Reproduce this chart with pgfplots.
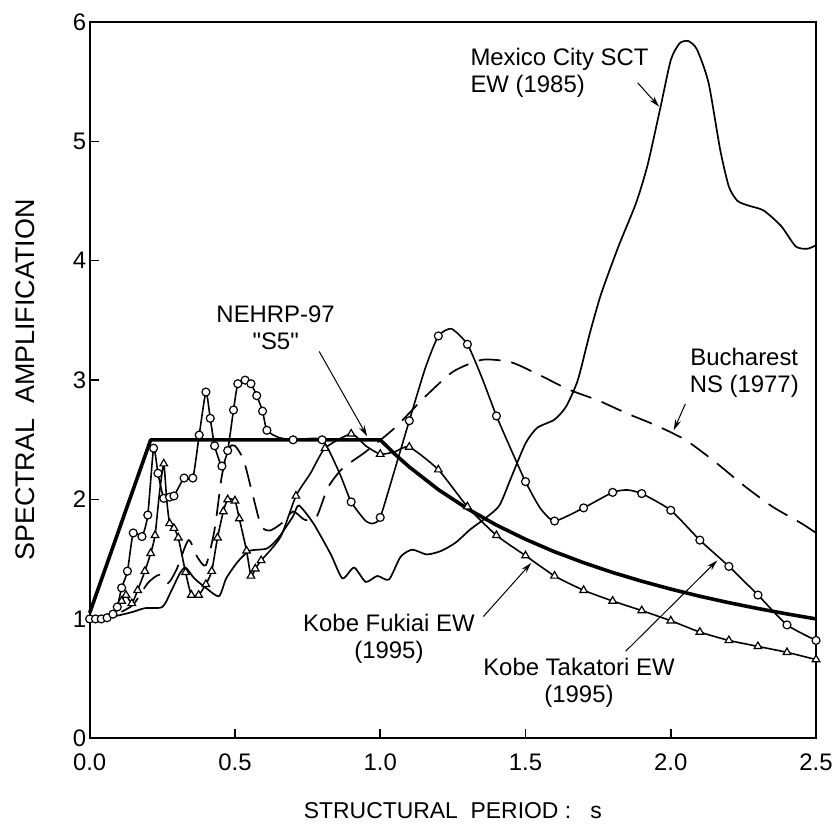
\documentclass[border=0pt]{standalone}
\usepackage{fontspec}
\setmainfont{Liberation Sans}
\newfontfamily\qfont{Liberation Sans}
\usepackage{pgfplots}
\pgfplotsset{compat=1.18}
\usetikzlibrary{arrows.meta}
\begin{document}
\begin{tikzpicture}
\begin{axis}[
  scale only axis, width=729pt, height=719pt,
  xmin=0, xmax=2.5, ymin=0, ymax=6,
  xtick={0,0.5,1,1.5,2,2.5}, ytick={0,1,2,3,4,5,6},
  xtick pos=bottom, ytick pos=left,
  tick align=inside, major tick length=9pt,
  axis line style={line width=2pt},
  every tick/.style={line width=1.5pt, black},
  clip=false,
  /pgf/number format/assume math mode=true,
  x tick label style={yshift=-12pt, font=\fontsize{24}{28}\selectfont},
  y tick label style={font=\fontsize{24}{28}\selectfont},
  xticklabel style={/pgf/number format/fixed, /pgf/number format/fixed zerofill, /pgf/number format/precision=1},
  xlabel={STRUCTURAL\ \ PERIOD\ :\ \ \ s},
  ylabel={SPECTRAL\ \ AMPLIFICATION},
  every axis x label/.style={at={(axis description cs:0.5,-0.1015)}, anchor=center, font=\fontsize{23}{27}\selectfont},
  every axis y label/.style={at={(axis description cs:-0.089,0.5)}, rotate=90, anchor=center, font=\fontsize{27}{31}\selectfont},
]
% Mexico City SCT EW (1985)
\addplot[black, line width=1.7pt, smooth, tension=0.4] coordinates {
(0,1.0) (0.05,1.01) (0.1,1.03) (0.15,1.06) (0.19,1.09) (0.25,1.10) (0.28,1.23) (0.31,1.38) (0.33,1.43) (0.36,1.34) (0.40,1.26) (0.445,1.19) (0.47,1.34) (0.51,1.48) (0.55,1.57) (0.61,1.59) (0.65,1.68) (0.70,1.86) (0.72,1.95) (0.77,1.80) (0.83,1.54) (0.87,1.34) (0.91,1.43) (0.95,1.31) (0.99,1.36) (1.03,1.33) (1.07,1.52) (1.11,1.58) (1.16,1.54) (1.21,1.57) (1.26,1.64) (1.31,1.75) (1.36,1.84) (1.41,1.95) (1.45,2.18) (1.50,2.47) (1.54,2.60) (1.60,2.67) (1.64,2.78) (1.68,3.0) (1.72,3.38) (1.76,3.72) (1.82,4.12) (1.88,4.48) (1.92,4.8) (1.965,5.29) (2.00,5.68) (2.03,5.82) (2.06,5.84) (2.09,5.77) (2.13,5.49) (2.17,4.93) (2.20,4.62) (2.23,4.50) (2.27,4.46) (2.32,4.42) (2.38,4.29) (2.43,4.12) (2.47,4.10) (2.5,4.13)
};
% Bucharest NS (1977)
\addplot[black, line width=1.7pt, dash pattern=on 22pt off 11pt, smooth, tension=0.4] coordinates {
(0,1.0) (0.05,1.01) (0.1,1.05) (0.15,1.12) (0.2,1.3) (0.24,1.37) (0.27,1.3) (0.3,1.42) (0.34,1.66) (0.37,1.52) (0.40,1.45) (0.43,1.75) (0.455,2.2) (0.48,2.43) (0.50,2.45) (0.53,2.33) (0.56,2.05) (0.59,1.78) (0.62,1.74) (0.66,1.80) (0.70,1.90) (0.74,1.83) (0.78,1.85) (0.82,2.1) (0.87,2.26) (0.95,2.40) (1.05,2.60) (1.15,2.85) (1.25,3.07) (1.35,3.17) (1.45,3.15) (1.55,3.04) (1.65,2.92) (1.75,2.83) (1.85,2.72) (1.95,2.62) (2.05,2.50) (2.15,2.32) (2.25,2.12) (2.35,1.94) (2.45,1.80) (2.5,1.72)
};
% Kobe Takatori EW line
\addplot[black, line width=1.6pt, smooth, tension=0.35] coordinates {
(0,1.0) (0.02,1.0) (0.04,1.0) (0.06,1.01) (0.08,1.04) (0.095,1.1) (0.11,1.26) (0.13,1.40) (0.15,1.72) (0.18,1.69) (0.20,1.87) (0.22,2.43) (0.235,2.22) (0.255,2.01) (0.275,2.02) (0.29,2.03) (0.325,2.18) (0.355,2.18) (0.377,2.54) (0.40,2.90) (0.415,2.68) (0.43,2.45) (0.455,2.28) (0.475,2.41) (0.495,2.75) (0.51,2.97) (0.535,3.0) (0.555,2.97) (0.575,2.87) (0.595,2.74) (0.61,2.58) (0.65,2.52) (0.7,2.5) (0.8,2.5) (0.86,2.22) (0.9,1.98) (0.95,1.82) (0.975,1.80) (1.0,1.85) (1.05,2.25) (1.1,2.66) (1.155,3.10) (1.2,3.37) (1.245,3.43) (1.3,3.30) (1.35,3.02) (1.4,2.70) (1.45,2.42) (1.5,2.15) (1.55,1.93) (1.6,1.82) (1.7,1.93) (1.8,2.06) (1.85,2.08) (1.9,2.05) (2.0,1.91) (2.1,1.66) (2.2,1.44) (2.3,1.20) (2.4,0.95) (2.5,0.82)
};
% Kobe Fukiai EW line
\addplot[black, line width=1.6pt, smooth, tension=0.35] coordinates {
(0,1.0) (0.03,1.01) (0.06,1.03) (0.09,1.07) (0.11,1.15) (0.125,1.2) (0.145,1.13) (0.165,1.24) (0.19,1.40) (0.21,1.55) (0.225,1.70) (0.24,2.05) (0.255,2.30) (0.265,2.0) (0.275,1.80) (0.29,1.76) (0.305,1.68) (0.33,1.39) (0.35,1.20) (0.375,1.20) (0.40,1.29) (0.42,1.40) (0.44,1.68) (0.46,1.90) (0.475,2.0) (0.50,1.99) (0.515,1.84) (0.54,1.57) (0.555,1.36) (0.57,1.42) (0.59,1.49) (0.62,1.57) (0.66,1.70) (0.71,2.03) (0.76,2.22) (0.81,2.43) (0.9,2.55) (0.95,2.45) (1.0,2.38) (1.05,2.40) (1.1,2.44) (1.2,2.25) (1.3,1.94) (1.4,1.70) (1.5,1.53) (1.6,1.36) (1.7,1.24) (1.8,1.15) (1.9,1.07) (2.0,0.985) (2.1,0.89) (2.2,0.82) (2.3,0.77) (2.4,0.72) (2.5,0.66)
};
% NEHRP-97 S5
\addplot[black, line width=3.6pt, line join=round] coordinates {
(0,1.05) (0.21,2.5) (1.0,2.5) (1.05,2.381) (1.1,2.273) (1.2,2.083) (1.3,1.923) (1.4,1.786) (1.5,1.667) (1.6,1.5625) (1.7,1.471) (1.8,1.389) (1.9,1.316) (2.0,1.25) (2.1,1.190) (2.2,1.136) (2.3,1.087) (2.4,1.042) (2.5,1.0)
};
% Takatori marks
\addplot[only marks, mark=*, mark size=4pt, mark options={draw=black, fill=white, line width=1.2pt}] coordinates {
(0,1.0) (0.02,1.0) (0.04,1.0) (0.06,1.01) (0.08,1.04) (0.095,1.1) (0.11,1.26) (0.13,1.40) (0.15,1.72) (0.18,1.69) (0.20,1.87) (0.22,2.43) (0.235,2.22) (0.255,2.01) (0.275,2.02) (0.29,2.03) (0.325,2.18) (0.355,2.18) (0.377,2.54) (0.40,2.90) (0.415,2.68) (0.43,2.45) (0.455,2.28) (0.475,2.41) (0.495,2.75) (0.51,2.97) (0.535,3.0) (0.555,2.97) (0.575,2.87) (0.595,2.74) (0.61,2.58) (0.7,2.5) (0.8,2.5) (0.9,1.98) (1.0,1.85) (1.1,2.66) (1.2,3.37) (1.3,3.30) (1.4,2.70) (1.5,2.15) (1.6,1.82) (1.7,1.93) (1.8,2.06) (1.9,2.05) (2.0,1.91) (2.1,1.66) (2.2,1.44) (2.3,1.20) (2.4,0.95) (2.5,0.82)
};
% Fukiai marks
\addplot[only marks, mark=triangle*, mark size=4.4pt, mark options={draw=black, fill=white, line width=1.2pt}] coordinates {
(0.11,1.15) (0.125,1.2) (0.145,1.13) (0.165,1.24) (0.19,1.40) (0.21,1.55) (0.225,1.70) (0.255,2.30) (0.275,1.80) (0.29,1.76) (0.305,1.68) (0.33,1.39) (0.35,1.20) (0.375,1.20) (0.40,1.29) (0.42,1.40) (0.44,1.68) (0.46,1.90) (0.475,2.0) (0.50,1.99) (0.515,1.84) (0.54,1.57) (0.555,1.36) (0.57,1.42) (0.59,1.49) (0.71,2.03) (0.81,2.43) (0.9,2.55) (1.0,2.38) (1.1,2.44) (1.2,2.25) (1.3,1.94) (1.4,1.70) (1.5,1.53) (1.6,1.36) (1.7,1.24) (1.8,1.15) (1.9,1.07) (2.0,0.985) (2.1,0.89) (2.2,0.82) (2.3,0.77) (2.4,0.72) (2.5,0.66)
};
% annotations
\node[font=\fontsize{24}{27}\selectfont, align=left, anchor=west, inner sep=0pt] at (axis cs:1.31,5.576) {Mexico City SCT\\EW (1985)};
\node[font=\fontsize{24}{27}\selectfont, align=center, inner sep=0pt] at (axis cs:0.64,3.44) {NEHRP-97\\{\qfont "S5"}};
\node[font=\fontsize{24}{27}\selectfont, align=center, inner sep=0pt] at (axis cs:2.253,3.06) {Bucharest\\NS (1977)};
\node[font=\fontsize{24}{27}\selectfont, align=center, inner sep=0pt] at (axis cs:1.03,0.835) {Kobe Fukiai EW\\(1995)};
\node[font=\fontsize{24}{27}\selectfont, align=center, inner sep=0pt] at (axis cs:1.684,0.467) {Kobe Takatori EW\\(1995)};
\draw[line width=1pt, -{Stealth[length=11pt,width=6pt]}] (axis cs:1.886,5.49) -- (axis cs:1.96,5.29);
\draw[line width=1pt, -{Stealth[length=11pt,width=6pt]}] (axis cs:0.79,3.24) -- (axis cs:0.955,2.53);
\draw[line width=1pt, -{Stealth[length=11pt,width=6pt]}] (axis cs:2.05,2.80) -- (axis cs:2.01,2.58);
\draw[line width=1pt, -{Stealth[length=11pt,width=6pt]}] (axis cs:1.355,1.02) -- (axis cs:1.52,1.47);
\draw[line width=1pt, -{Stealth[length=11pt,width=6pt]}] (axis cs:1.845,0.73) -- (axis cs:2.16,1.49);
\end{axis}
\path (-90pt,-91pt) rectangle (746pt,741pt);
\end{tikzpicture}
\end{document}
